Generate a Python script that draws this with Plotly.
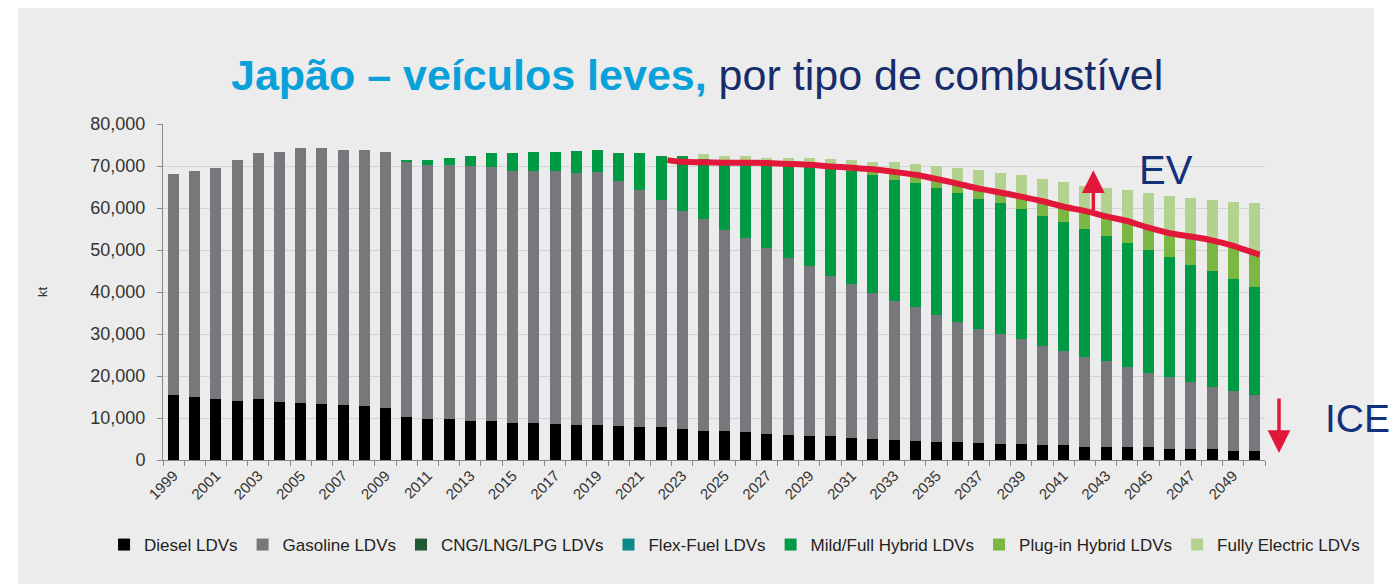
import plotly.graph_objects as go

years = list(range(1999, 2051))

diesel = [15500, 15000, 14500, 14000, 14500, 13900, 13600, 13400, 13100, 12900, 12400,
          10300, 9800, 9800, 9200, 9200, 8800, 8700, 8500, 8400, 8400,
          8000, 7900, 7900, 7400, 7000, 6900, 6600, 6300, 6000, 5800,
          5600, 5200, 5000, 4800, 4500, 4200, 4200, 4000, 3800, 3800,
          3600, 3600, 3000, 3000, 3000, 3000, 2600, 2600, 2600, 2200, 2200]

gasoline = [52500, 53700, 55000, 57500, 58500, 59500, 60700, 60900, 60800, 60900, 60900,
            60600, 60500, 60500, 60700, 60600, 60100, 60000, 60200, 60000, 60100,
            58400, 56300, 54000, 51900, 50300, 47900, 46200, 44100, 42200, 40400,
            38200, 36800, 34800, 33100, 31900, 30300, 28600, 27300, 26100, 24900,
            23500, 22400, 21600, 20600, 19200, 17800, 17200, 15900, 14900, 14200, 13300]

cng = [0] * 52
flex = [0] * 52

hybrid = [0, 0, 0, 0, 0, 0, 0, 0, 0, 0, 0,
          500, 1200, 1700, 2600, 3200, 4100, 4700, 4700, 5100, 5400,
          6600, 8800, 10600, 13200, 14400, 16000, 17900, 20200, 22100, 23700,
          25600, 26700, 28100, 28800, 29500, 30300, 30700, 30800, 31200, 31000,
          31000, 30700, 30400, 29800, 29400, 29300, 28600, 27900, 27400, 26700, 25800]

plugin = [0] * 26 + [100, 100, 200, 200, 400,
                     500, 900, 1300, 1900, 2000, 2100, 2300, 2500, 2600, 3000,
                     3500, 3600, 4300, 4600, 5300, 5200, 5600, 6800, 7400, 7900, 8000]

electric = [0] * 25 + [1200, 1500, 1600, 1200, 1500, 1700,
                       1700, 1800, 1800, 2400, 2600, 3200, 3800, 4400, 4700, 5100,
                       5200, 5900, 6000, 6800, 7400, 8200, 8900, 9200, 9600, 10500, 12000]

line_years = [2022.3, 2023, 2024, 2025, 2026, 2027, 2028, 2029, 2030, 2031, 2032, 2033,
              2034, 2035, 2036, 2037, 2038, 2039, 2040, 2041, 2042, 2043, 2044, 2045,
              2046, 2047, 2048, 2049, 2050, 2050.25]
line_vals = [71400, 71000, 70900, 70800, 70800, 70700, 70500, 70300, 69900, 69600, 69200, 68600,
             67900, 66900, 65800, 64600, 63700, 62700, 61600, 60300, 59300, 58000, 56900, 55300,
             54000, 53200, 52300, 51000, 49300, 48900]

tick_years = list(range(1999, 2050, 2))
tick_labels = [str(y) for y in tick_years]

series = [
    ("Diesel LDVs", diesel, "#000000"),
    ("Gasoline LDVs", gasoline, "#76787b"),
    ("CNG/LNG/LPG LDVs", cng, "#1f5a32"),
    ("Flex-Fuel LDVs", flex, "#0b8a8a"),
    ("Mild/Full Hybrid LDVs", hybrid, "#009a44"),
    ("Plug-in Hybrid LDVs", plugin, "#7ab843"),
    ("Fully Electric LDVs", electric, "#b4d28f"),
]

FONT = "Liberation Sans, Arial, sans-serif"

fig = go.Figure()
for name, vals, col in series:
    fig.add_trace(go.Bar(x=years, y=vals, name=name, marker=dict(color=col, line=dict(width=0)),
                         width=0.52))

fig.add_trace(go.Scatter(x=line_years, y=line_vals, mode="lines", showlegend=False,
                         line=dict(color="#e2183a", width=6, shape="spline", smoothing=0.6)))

fig.update_layout(
    width=1400, height=584,
    barmode="stack",
    margin=dict(l=163, r=135, t=124, b=124, autoexpand=False),
    paper_bgcolor="white",
    plot_bgcolor="rgba(0,0,0,0)",
    font=dict(family=FONT, color="#333333"),
    showlegend=True,
    legend=dict(orientation="h", x=-0.0535, xanchor="left", y=-0.253, yanchor="middle",
                font=dict(size=17, color="#222222"), bgcolor="rgba(0,0,0,0)",
                traceorder="normal", itemwidth=30),
    shapes=[dict(type="rect", xref="paper", yref="paper", x0=-0.1316, x1=1.0989,
                 y0=-0.38, y1=1.345, fillcolor="#ececec", line=dict(width=0), layer="below")],
)

fig.update_xaxes(
    range=[1998.5, 2050.5], automargin=False,
    tickmode="array", tickvals=tick_years, ticktext=tick_labels,
    tickangle=-45, tickfont=dict(size=15, color="#333333"),
    ticks="", showgrid=False, zeroline=False,
    showline=True, linecolor="#8a8a8a", linewidth=1,
    minor=dict(ticks="outside", tick0=1998.5, dtick=1, ticklen=5, tickcolor="#8a8a8a",
               showgrid=False),
)
fig.update_yaxes(
    range=[0, 80000], dtick=10000, tickformat=",", automargin=False,
    tickfont=dict(size=18, color="#333333"), ticklabelstandoff=8,
    showgrid=True, gridcolor="#d3d3d3", gridwidth=1,
    zeroline=False, showline=True, linecolor="#8a8a8a", linewidth=1,
    ticks="outside", ticklen=5, tickcolor="#8a8a8a",
)

title_html = ("<b><span style='color:#0aa0da'>Japão – veículos leves,</span></b>"
              "<span style='color:#172c6b'> por tipo de combustível</span>")

annotations = [
    dict(text=title_html, xref="paper", yref="paper", x=0.4846, y=1.147,
         xanchor="center", yanchor="middle", showarrow=False,
         font=dict(size=43, family=FONT)),
    dict(text="kt", xref="paper", yref="paper", x=-0.1098, y=0.5, textangle=-90,
         xanchor="center", yanchor="middle",
         showarrow=False, font=dict(size=13, color="#333333")),
    dict(text="EV", xref="paper", yref="paper", x=0.910, y=0.863, xanchor="center",
         yanchor="middle", showarrow=False, font=dict(size=40, color="#13307a", family=FONT)),
    dict(text="ICE", xref="paper", yref="paper", x=1.1148, y=0.125, xanchor="right",
         yanchor="middle", showarrow=False, font=dict(size=39, color="#13307a", family=FONT)),
    dict(text="", x=2042.4, y=69000, xref="x", yref="y", ax=2042.4, ay=59000,
         axref="x", ayref="y", showarrow=True, arrowhead=2, arrowsize=1.3, arrowwidth=3.5,
         arrowcolor="#e2183a"),
    dict(text="", x=1.0127, y=0.0208, xref="paper", yref="paper", ax=0, ay=-56,
         showarrow=True, arrowhead=2, arrowsize=1.3, arrowwidth=3.5,
         arrowcolor="#e2183a"),
]
fig.update_layout(annotations=annotations)

fig.write_html("out.html", config={"displayModeBar": False},
               post_script="document.body.style.margin='0px';")
